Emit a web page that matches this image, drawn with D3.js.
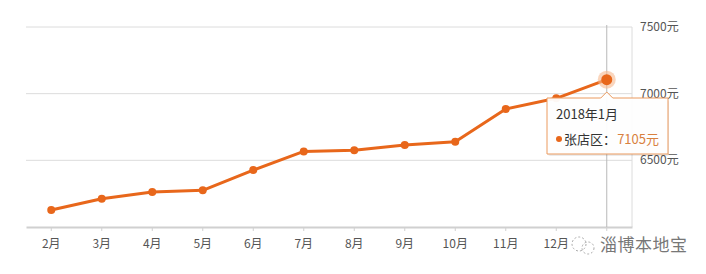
<!DOCTYPE html>
<html>
<head>
<meta charset="utf-8">
<script src="https://cdn.jsdelivr.net/npm/d3@7"></script>
<style>
  body { margin: 0; background: #fff; }
  #chart { width: 706px; height: 274px; }
  text { font-family: "Noto Sans CJK SC", "Noto Sans", sans-serif; }
</style>
</head>
<body>
<div id="chart"></div>
<script>
var months = ["2月","3月","4月","5月","6月","7月","8月","9月","10月","11月","12月","1月"];
var prices = [6127, 6212, 6262, 6275, 6427, 6567, 6575, 6615, 6640, 6885, 6965, 7105];
var yTicks = [6500, 7000, 7500];
var tipTitle = "2018年1月";
var tipName = "张店区：";
var tipValue = "7105元";

var width = 706, height = 274;
var mLeft = 26, mRight = 632, mTop = 27, mBottom = 227;
var orange = "#e8671b";

var svg = d3.select("#chart").append("svg")
  .attr("width", width)
  .attr("height", height);

var x = d3.scaleBand()
  .domain(months)
  .range([mLeft, mRight]);

var y = d3.scaleLinear()
  .domain([6000, 7500])
  .range([mBottom, mTop]);

var cx = d => x(d) + x.bandwidth() / 2;

// grid lines
svg.selectAll(".grid")
  .data(yTicks)
  .join("line")
  .attr("x1", mLeft).attr("x2", mRight)
  .attr("y1", d => y(d)).attr("y2", d => y(d))
  .attr("stroke", "#dcdcdc")
  .attr("stroke-width", 1);

// right border
svg.append("line")
  .attr("x1", mRight).attr("x2", mRight)
  .attr("y1", mTop).attr("y2", mBottom)
  .attr("stroke", "#dcdcdc");

// y labels on the right
svg.selectAll(".ylab")
  .data(yTicks)
  .join("text")
  .attr("x", mRight + 8)
  .attr("y", d => y(d) + 4)
  .attr("font-size", 12)
  .attr("fill", "#555")
  .text(d => d + "元");

// x axis (last label sits under the watermark in the original)
var last = months[months.length - 1];
var xAxis = svg.append("g")
  .attr("transform", `translate(0,${mBottom})`)
  .call(d3.axisBottom(x).tickSize(4).tickSizeOuter(0).tickPadding(8)
    .tickFormat(d => d == last ? "" : d));
xAxis.select(".domain").attr("stroke", "#d0d0d0").attr("stroke-width", 2);
xAxis.selectAll(".tick line").attr("stroke", "#d0d0d0");
xAxis.selectAll(".tick text")
  .attr("font-size", 12)
  .attr("fill", "#555")
  .attr("font-family", "Noto Sans CJK SC, sans-serif");

// hover line
svg.append("line")
  .attr("x1", cx(last)).attr("x2", cx(last))
  .attr("y1", 25).attr("y2", mBottom)
  .attr("stroke", "#b8b8b8")
  .attr("stroke-width", 1);

// line
var line = d3.line()
  .x((d, i) => cx(months[i]))
  .y(d => y(d));

svg.append("path")
  .datum(prices)
  .attr("d", line)
  .attr("fill", "none")
  .attr("stroke", orange)
  .attr("stroke-width", 3)
  .attr("stroke-linejoin", "round");

svg.selectAll(".pt")
  .data(prices.slice(0, -1))
  .join("circle")
  .attr("cx", (d, i) => cx(months[i]))
  .attr("cy", d => y(d))
  .attr("r", 4)
  .attr("fill", orange);

// highlighted point
var lv = prices[prices.length - 1];
svg.append("circle")
  .attr("cx", cx(last)).attr("cy", y(lv))
  .attr("r", 9)
  .attr("fill", "#f7b98f")
  .attr("opacity", 0.6);
svg.append("circle")
  .attr("cx", cx(last)).attr("cy", y(lv))
  .attr("r", 5.5)
  .attr("fill", orange);

// tooltip
var tx = 547, ty = 98, tw = 121, th = 56;
var ax = cx(last);
var tip = svg.append("g");
tip.append("rect")
  .attr("x", tx + 1).attr("y", ty + 2)
  .attr("width", tw).attr("height", th)
  .attr("fill", "#000").attr("opacity", 0.08)
  .attr("rx", 2);
tip.append("path")
  .attr("d", `M${tx},${ty} H${ax - 6} L${ax},${ty - 6} L${ax + 6},${ty} H${tx + tw} V${ty + th} H${tx} Z`)
  .attr("fill", "rgba(255,255,255,0.95)")
  .attr("stroke", "#eb9a5e")
  .attr("stroke-width", 1);
tip.append("text")
  .attr("x", tx + 9).attr("y", ty + 21)
  .attr("font-size", 13)
  .attr("fill", "#333")
  .text(tipTitle);
tip.append("circle")
  .attr("cx", tx + 12).attr("cy", ty + 41)
  .attr("r", 3)
  .attr("fill", orange);
tip.append("text")
  .attr("x", tx + 17).attr("y", ty + 46)
  .attr("font-size", 13)
  .attr("fill", "#333")
  .text(tipName);
tip.append("text")
  .attr("x", tx + 112).attr("y", ty + 46)
  .attr("text-anchor", "end")
  .attr("font-size", 13)
  .attr("fill", "#d9813f")
  .text(tipValue);

// watermark
var wm = svg.append("g");
wm.append("circle")
  .attr("cx", 579).attr("cy", 244).attr("r", 7)
  .attr("fill", "none")
  .attr("stroke", "#aaa")
  .attr("stroke-dasharray", "2,2");
wm.append("circle")
  .attr("cx", 588).attr("cy", 248).attr("r", 6)
  .attr("fill", "none")
  .attr("stroke", "#aaa")
  .attr("stroke-dasharray", "2,2");
wm.append("text")
  .attr("x", 600).attr("y", 251)
  .attr("font-size", 17)
  .attr("fill", "#777")
  .attr("letter-spacing", 0.5)
  .text("淄博本地宝");
</script>
</body>
</html>
